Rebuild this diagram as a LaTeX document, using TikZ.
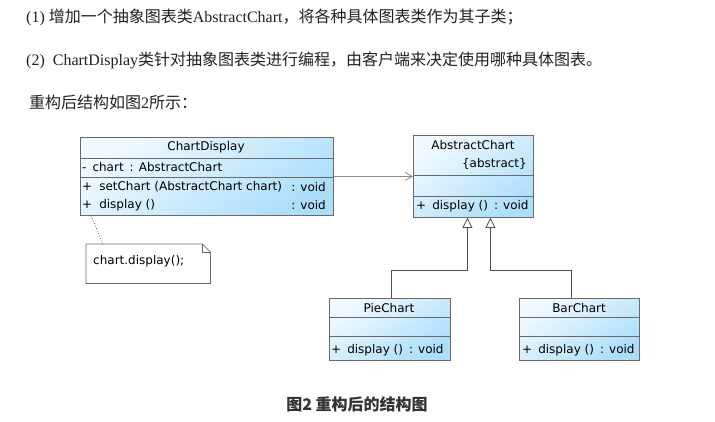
\documentclass[tikz,border=0pt]{standalone}
\usepackage{fontspec}
\setmainfont{Liberation Serif}
\newfontfamily\cjk{Noto Sans CJK SC}
\newfontfamily\umlfont{DejaVu Sans}
\usetikzlibrary{arrows.meta}
\definecolor{txt}{RGB}{34,34,34}
\definecolor{umlborder}{RGB}{105,105,105}
\definecolor{umlblue}{RGB}{172,222,250}
\definecolor{umlwhite}{RGB}{242,249,255}
\definecolor{linkgray}{RGB}{140,140,140}
\definecolor{gengray}{RGB}{80,80,80}
\definecolor{captxt}{RGB}{51,51,51}
\begin{document}
\begin{tikzpicture}[x=1pt,y=-1pt,
  umlbox/.style={draw=umlborder, line width=0.8pt, top color=umlwhite, bottom color=umlblue, shading angle=35, anchor=north west, inner sep=0pt},
  sep/.style={draw=umlborder, line width=0.8pt},
  utext/.style={font=\umlfont\fontsize{12}{14}\selectfont, inner sep=0pt, text=black},
  ptext/.style={font=\fontsize{16}{19}\selectfont, inner sep=0pt, anchor=west, text=txt},
  assoc/.style={draw=linkgray, line width=0.8pt, -{Straight Barb[length=7pt,width=8pt]}},
  gen/.style={draw=gengray, line width=0.8pt, -{Triangle[open,length=10pt,width=10pt]}},
  notebox/.style={draw=umlborder, line width=0.8pt, fill=white}
]
\fill[white] (0,0) rectangle (715,421);
\useasboundingbox (0,0) rectangle (715,421);

% top text
\node[ptext] (l1) at (26,17) {(1) {\cjk 增加一个抽象图表类}AbstractChart{\cjk ，将各种具体图表类作为其子类；}};
\node[ptext] (l2) at (26,60) {(2)\hspace{8pt}ChartDisplay{\cjk 类针对抽象图表类进行编程，由客户端来决定使用哪种具体图表。}};
\node[ptext] (l3) at (29,102) {{\cjk 重构后结构如图}2{\cjk 所示：}};

% ChartDisplay
\node[umlbox, minimum width=253.5pt, minimum height=78pt] (cd) at (79.5,137) {};
\draw[sep] (cd.west |- 0,158) -- (cd.east |- 0,158);
\draw[sep] (cd.west |- 0,177) -- (cd.east |- 0,177);
\node[utext] (cdt) at (206,147) {ChartDisplay};
\node[utext, anchor=west] (cda) at (82,167) {-\hspace{6pt}chart\hspace{6pt}: AbstractChart};
\node[utext, anchor=west] (cdm1) at (82,187) {+\hspace{7pt}setChart (AbstractChart chart)};
\node[utext, anchor=east] (cdv1) at (326,187) {: void};
\node[utext, anchor=west] (cdm2) at (82,205) {+\hspace{7pt}display ()};
\node[utext, anchor=east] (cdv2) at (326,205) {: void};

% AbstractChart
\node[umlbox, minimum width=120pt, minimum height=82pt] (ac) at (413,135) {};
\draw[sep] (ac.west |- 0,175) -- (ac.east |- 0,175);
\draw[sep] (ac.west |- 0,196) -- (ac.east |- 0,196);
\node[utext] (act) at (473,145) {AbstractChart};
\node[utext, anchor=east] (acs) at (527,164) {\{abstract\}};
\node[utext, anchor=west] (acm) at (416,206) {+\hspace{6pt}display ()\hspace{6pt}: void};

% PieChart
\node[umlbox, minimum width=121pt, minimum height=62pt] (pie) at (328.5,298) {};
\draw[sep] (pie.west |- 0,317) -- (pie.east |- 0,317);
\draw[sep] (pie.west |- 0,336) -- (pie.east |- 0,336);
\node[utext] (piet) at (389,308) {PieChart};
\node[utext, anchor=west] (piem) at (331,350) {+\hspace{6pt}display ()\hspace{6pt}: void};

% BarChart
\node[umlbox, minimum width=120pt, minimum height=62pt] (bar) at (519,298) {};
\draw[sep] (bar.west |- 0,317) -- (bar.east |- 0,317);
\draw[sep] (bar.west |- 0,336) -- (bar.east |- 0,336);
\node[utext] (bart) at (579,308) {BarChart};
\node[utext, anchor=west] (barm) at (522,350) {+\hspace{6pt}display ()\hspace{6pt}: void};

% note
\node[inner sep=0pt, minimum width=124pt, minimum height=39pt, anchor=north west] (note) at (86,244) {};
\draw[notebox] (note.north west) -- ([xshift=-8pt]note.north east) -- ([yshift=-8pt]note.north east) -- (note.south east) -- (note.south west) -- cycle;
\draw[draw=umlborder, line width=0.6pt] ([xshift=-8pt]note.north east) |- ([yshift=-8pt]note.north east);
\node[utext, anchor=west] (notet) at (93,261) {chart.display();};
\draw[draw=gengray, line width=0.7pt, dotted] ([xshift=11.5pt]cd.south west) -- ([xshift=17pt]note.north west);

% connectors
\draw[assoc] (cd.east) -- (ac.west);
\draw[gen] ([xshift=2pt]pie.north) -- ++(0,-28) -| ([xshift=-6pt]ac.south);
\draw[gen] ([xshift=-8.5pt]bar.north) -- ++(0,-28) -| ([xshift=17pt]ac.south);

% caption
\node[font=\cjk\bfseries\fontsize{16}{19}\selectfont, text=captxt, inner sep=0pt] (cap) at (357,404) {图2 重构后的结构图};
\end{tikzpicture}
\end{document}
